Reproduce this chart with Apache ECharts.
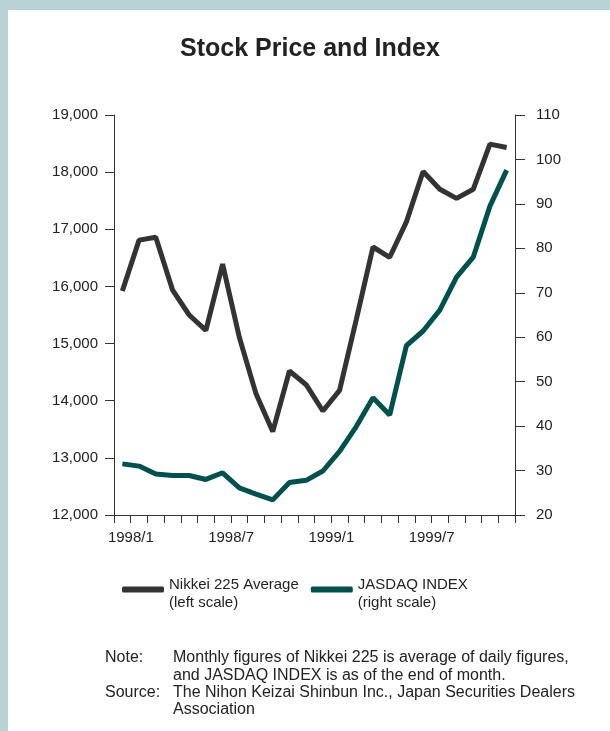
<!DOCTYPE html>
<html lang="en">
<head>
    <meta charset="UTF-8">
    <title>Stock Price and Index</title>
    <script src="https://cdn.jsdelivr.net/npm/echarts@6.0.0/dist/echarts.min.js"></script>
    <style>
        body { margin: 0; background: #b9d2d5; }
        #frame { position: absolute; left: 8px; top: 10px; right: 0; bottom: 0; background: #fff; }
        #chart { position: absolute; left: 0; top: 0; width: 610px; height: 731px; }
    </style>
</head>
<body>
    <div id="frame"></div>
    <div id="chart"></div>
    <script>
        // months 1998/1 .. 1999/12
        const months = [
            '1998/1', '1998/2', '1998/3', '1998/4', '1998/5', '1998/6',
            '1998/7', '1998/8', '1998/9', '1998/10', '1998/11', '1998/12',
            '1999/1', '1999/2', '1999/3', '1999/4', '1999/5', '1999/6',
            '1999/7', '1999/8', '1999/9', '1999/10', '1999/11', '1999/12'
        ];
        // Nikkei 225 monthly average (left scale, yen)
        const nikkei = [
            15920, 16810, 16860, 15940, 15500, 15230,
            16390, 15110, 14120, 13460, 14520, 14280,
            13820, 14180, 15420, 16690, 16510, 17130,
            18010, 17700, 17540, 17700, 18490, 18430
        ];
        // JASDAQ index, end of month (right scale)
        const jasdaq = [
            31.5, 31.0, 29.2, 28.9, 28.9, 28.0,
            29.5, 26.1, 24.7, 23.4, 27.3, 27.8,
            29.9, 34.3, 39.9, 46.4, 42.5, 58.1,
            61.4, 66.1, 73.5, 78.0, 89.5, 97.6
        ];
        const leftTicks = { min: 12000, max: 19000, step: 1000 };
        const rightTicks = { min: 20, max: 110, step: 10 };
        const legendNotes = {
            'Nikkei 225 Average': '(left scale)',
            'JASDAQ INDEX': '(right scale)'
        };
        const noteLines = [
            ['Note:', 'Monthly figures of Nikkei 225 is average of daily figures,'],
            ['', 'and JASDAQ INDEX is as of the end of month.'],
            ['Source:', 'The Nihon Keizai Shinbun Inc., Japan Securities Dealers'],
            ['', 'Association']
        ];

        const font = '"Liberation Sans", Arial, sans-serif';
        const ink = '#222';
        const axisColor = '#333';

        const chart = echarts.init(document.getElementById('chart'));

        // note / source block at the bottom
        const notes = [];
        noteLines.forEach((row, i) => {
            const y = 658 + i * 17.3;
            if (row[0]) {
                notes.push({ type: 'text', x: 105, y: y,
                    style: { text: row[0], font: '16px ' + font, fill: ink, verticalAlign: 'middle' } });
            }
            notes.push({ type: 'text', x: 173, y: y,
                style: { text: row[1], font: '16px ' + font, fill: ink, verticalAlign: 'middle' } });
        });

        const option = {
            backgroundColor: 'transparent',
            animation: false,
            title: {
                text: 'Stock Price and Index',
                left: 305,
                textAlign: 'center',
                top: 32,
                textStyle: { fontFamily: font, fontSize: 25, fontWeight: 'bold', color: ink }
            },
            legend: {
                left: 122,
                top: 571,
                padding: 0,
                itemWidth: 42,
                itemHeight: 6,
                itemGap: 12,
                icon: 'roundRect',
                data: ['Nikkei 225 Average', 'JASDAQ INDEX'],
                // blank top line pushes the two text lines down against the icon
                formatter: name => '{s| }\n{a|' + name + '}\n{a|' + legendNotes[name] + '}',
                textStyle: {
                    fontFamily: font, fontSize: 15, color: ink,
                    rich: {
                        s: { fontSize: 1, lineHeight: 8 },
                        a: { fontFamily: font, fontSize: 15, color: ink, lineHeight: 18 }
                    }
                }
            },
            grid: { left: 114, top: 115, width: 401, height: 400, containLabel: false },
            xAxis: {
                type: 'category',
                data: months,
                boundaryGap: true,
                axisLine: { lineStyle: { color: axisColor, width: 1 } },
                axisTick: { show: true, interval: 0, length: 8, lineStyle: { color: axisColor } },
                axisLabel: {
                    interval: 5,
                    margin: 15,
                    padding: [0, 0, 0, 17],
                    fontFamily: font, fontSize: 15, color: ink
                },
                splitLine: { show: false }
            },
            yAxis: [
                {
                    type: 'value',
                    position: 'left',
                    min: leftTicks.min, max: leftTicks.max, interval: leftTicks.step,
                    axisLine: { show: true, lineStyle: { color: axisColor } },
                    axisTick: { show: true, length: 9, lineStyle: { color: axisColor } },
                    axisLabel: {
                        margin: 16,
                        fontFamily: font, fontSize: 15, color: ink,
                        formatter: v => v.toLocaleString('en-US')
                    },
                    splitLine: { show: false }
                },
                {
                    type: 'value',
                    position: 'right',
                    min: rightTicks.min, max: rightTicks.max, interval: rightTicks.step,
                    axisLine: { show: true, lineStyle: { color: axisColor } },
                    axisTick: { show: true, length: 10, lineStyle: { color: axisColor } },
                    axisLabel: { margin: 21, fontFamily: font, fontSize: 15, color: ink },
                    splitLine: { show: false }
                }
            ],
            series: [
                {
                    name: 'Nikkei 225 Average',
                    type: 'line',
                    yAxisIndex: 0,
                    data: nikkei,
                    symbol: 'none',
                    color: '#333333',
                    lineStyle: { width: 5, color: '#333333' }
                },
                {
                    name: 'JASDAQ INDEX',
                    type: 'line',
                    yAxisIndex: 1,
                    data: jasdaq,
                    symbol: 'none',
                    color: '#00504e',
                    lineStyle: { width: 5, color: '#00504e' }
                }
            ],
            graphic: notes
        };
        chart.setOption(option);
    </script>
</body>
</html>
